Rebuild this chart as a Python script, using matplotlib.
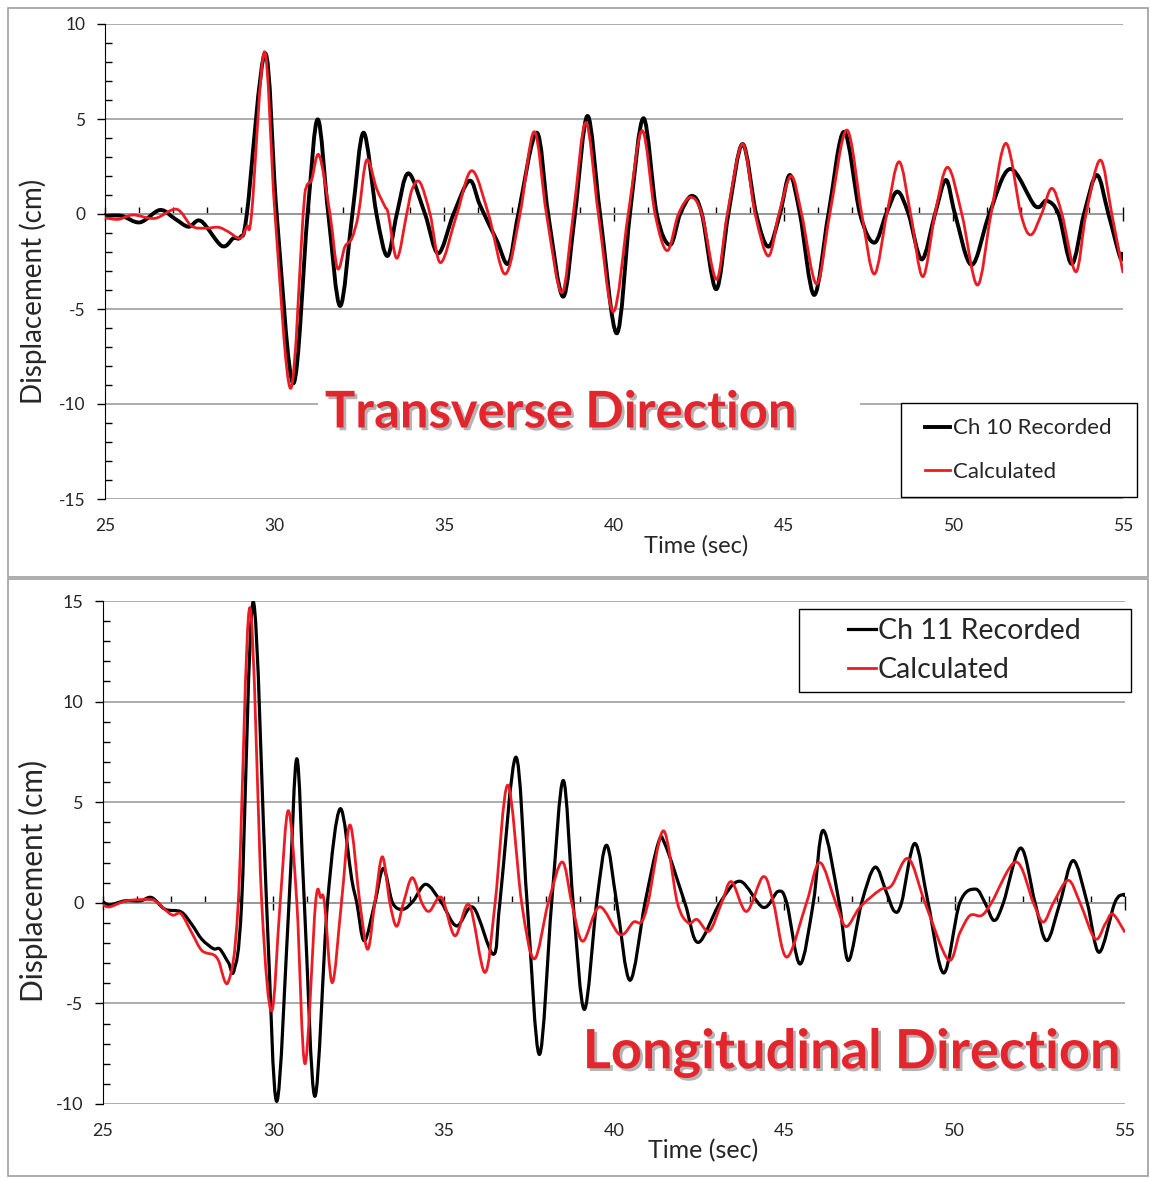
import matplotlib
matplotlib.use("Agg")
import matplotlib.pyplot as plt
import matplotlib.patheffects as pe
from matplotlib.patches import Rectangle, PathPatch
from matplotlib.path import Path
from matplotlib.lines import Line2D
from matplotlib.ticker import MultipleLocator, NullFormatter

plt.rcParams['font.family'] = ['Lato', 'DejaVu Sans']
plt.rcParams['axes.unicode_minus'] = False

# --- transverse direction (Ch 10): (time s, displacement cm)
t_ch10 = [25.0, 25.49, 26.03, 26.62, 27.06, 27.46, 27.83, 28.44, 28.78, 29.0, 29.18,
          29.72, 30.06, 30.55, 30.97, 31.27, 31.58, 31.93, 32.29, 32.62, 33.0, 33.32,
          33.6, 33.94, 34.43, 34.82, 35.27, 35.74, 36.05, 36.54, 36.89, 37.18, 37.72,
          38.06, 38.5, 38.85, 39.22, 39.59, 40.08, 40.47, 40.87, 41.26, 41.65, 41.95,
          42.29, 42.59, 43.01, 43.37, 43.79, 44.19, 44.55, 44.89, 45.18, 45.48, 45.9,
          46.32, 46.78, 47.25, 47.67, 48.02, 48.35, 48.68, 49.07, 49.46, 49.78, 50.05,
          50.54, 51.06, 51.67, 52.41, 52.75, 53.1, 53.49, 53.85, 54.23, 54.57, 54.92, 55.0]
d_ch10 = [-0.1, -0.1, -0.44, 0.21, -0.25, -0.67, -0.37, -1.68, -1.28, -1.2, 0.0,
          8.46, 0.0, -8.91, 0.0, 4.98, 0.0, -4.84, 0.0, 4.28, 0.0, -2.21,
          0.0, 2.14, 0.0, -2.07, 0.0, 1.75, 0.47, -1.37, -2.6, 0.0, 4.28,
          0.0, -4.35, 0.0, 5.16, 0.0, -6.28, 0.0, 5.04, 0.0, -1.63, 0.0,
          0.95, 0.0, -3.96, 0.0, 3.68, 0.0, -1.72, 0.0, 2.05, 0.0, -4.26,
          0.0, 4.33, 0.0, -1.51, 0.0, 1.18, 0.0, -2.39, 0.0, 1.79, 0.0,
          -2.68, 0.0, 2.37, 0.42, 0.7, 0.0, -2.63, 0.0, 2.05, 0.0, -2.3, -2.0]

t_calc_tr = [25.0, 25.4, 25.83, 26.47, 27.11, 27.55, 27.95, 28.34, 28.63, 28.98, 29.18,
             29.32, 29.7, 30.01, 30.47, 30.84, 30.94, 31.09, 31.31, 31.63, 31.85, 32.07,
             32.27, 32.47, 32.71, 33.0, 33.25, 33.35, 33.6, 33.89, 34.05, 34.28, 34.58,
             34.89, 35.37, 35.81, 36.3, 36.79, 37.23, 37.65, 38.01, 38.46, 38.8, 39.17,
             39.54, 39.98, 40.42, 40.83, 41.21, 41.57, 41.9, 42.26, 42.59, 43.02, 43.34,
             43.79, 44.16, 44.55, 44.86, 45.22, 45.53, 45.97, 46.36, 46.86, 47.3, 47.67,
             48.04, 48.4, 48.74, 49.1, 49.46, 49.83, 50.25, 50.71, 51.11, 51.55, 51.99,
             52.28, 52.6, 52.9, 53.2, 53.61, 53.91, 54.33, 54.67, 55.0]
d_calc_tr = [-0.2, -0.28, -0.05, -0.23, 0.25, -0.63, -0.75, -0.7, -0.93, -1.28, -0.65,
             0.0, 8.54, 0.0, -9.18, 0.0, 1.44, 1.8, 3.1, 0.0, -2.86, -1.72,
             -1.3, 0.0, 2.84, 1.35, 0.39, 0.0, -2.33, 0.0, 1.3, 1.67, 0.0,
             -2.56, 0.0, 2.28, 0.0, -3.16, 0.0, 4.33, 0.0, -4.14, 0.0, 4.81,
             0.0, -5.14, 0.0, 4.39, 0.0, -1.93, 0.0, 0.88, 0.0, -3.44, 0.0,
             3.68, 0.0, -2.21, 0.0, 2.0, 0.0, -3.68, 0.0, 4.42, 0.0, -3.16,
             0.0, 2.75, 0.0, -3.3, 0.0, 2.46, 0.0, -3.74, 0.0, 3.72, 0.0,
             -1.1, 0.0, 1.35, 0.0, -3.04, 0.0, 2.84, 0.0, -3.1]

# --- longitudinal direction (Ch 11)
t_ch11 = [25.0, 25.2, 25.65, 26.1, 26.43, 26.82, 27.29, 27.6, 27.9, 28.24, 28.43,
          28.68, 28.85, 29.07, 29.41, 29.8, 30.1, 30.46, 30.69, 30.91, 31.22, 31.59,
          31.96, 32.3, 32.45, 32.67, 32.98, 33.23, 33.5, 33.81, 34.11, 34.48,
          34.94, 35.38, 35.87, 36.46, 36.65, 37.12, 37.45, 37.81, 38.17, 38.51,
          38.8, 39.13, 39.49, 39.78, 40.08, 40.47, 40.91, 41.3, 41.5, 42.08, 42.47,
          43.11, 43.7, 44.38, 44.82, 45.07, 45.46, 45.85, 46.14, 46.61, 46.88, 47.27,
          47.66, 47.99, 48.23, 48.44, 48.83, 49.22, 49.68, 50.15, 50.61, 50.89, 51.16,
          51.43, 51.94, 52.36, 52.7, 53.09, 53.48, 53.89, 54.24, 54.7, 54.95, 55.0]
d_ch11 = [0.05, -0.1, 0.1, 0.1, 0.26, -0.32, -0.45, -1.06, -1.81, -2.28, -2.3,
          -2.97, -3.34, 0.0, 14.96, 0.0, -9.87, 0.0, 7.16, 0.0, -9.62, 0.0,
          4.67, 1.18, 0.0, -1.89, 0.0, 1.71, 0.0, -0.32, 0.1, 0.92,
          0.0, -1.15, -0.23, -2.56, 0.0, 7.24, 0.0, -7.54, 0.0, 6.08,
          0.0, -5.3, 0.0, 2.86, 0.0, -3.85, 0.0, 2.97, 2.9, 0.0, -1.97,
          0.0, 1.07, -0.23, 0.57, 0.0, -3.04, 0.0, 3.6, 0.0, -2.87, 0.0,
          1.77, 0.55, -0.42, 0.0, 2.95, 0.0, -3.49, 0.0, 0.68, 0.0, -0.88,
          0.0, 2.72, 0.0, -1.88, 0.0, 2.1, 0.0, -2.46, 0.0, 0.41, 0.3]

t_calc_lo = [25.0, 25.2, 25.7, 26.38, 26.6, 27.02, 27.29, 27.6, 27.9, 28.24, 28.39,
             28.68, 28.97, 29.31, 29.66, 29.95, 30.2, 30.44, 30.69, 30.93, 31.24, 31.39,
             31.5, 31.73, 32.0, 32.25, 32.54, 32.77, 32.98, 33.2, 33.42, 33.62, 33.82,
             34.08, 34.36, 34.58, 34.94, 35.33, 35.75, 36.21, 36.51, 36.88, 37.29, 37.66,
             38.07, 38.48, 38.76, 39.08, 39.57, 40.17, 40.57, 40.8, 41.0, 41.45, 41.86,
             42.18, 42.44, 42.8, 43.16, 43.45, 43.89, 44.38, 44.68, 45.07, 45.65, 46.04,
             46.51, 46.81, 47.22, 47.81, 48.15, 48.64, 49.13, 49.81, 50.15, 50.45, 50.79,
             51.08, 51.8, 52.31, 52.6, 52.9, 53.33, 53.68, 54.12, 54.42, 54.64, 55.0]
d_calc_lo = [-0.1, -0.2, 0.1, 0.16, 0.0, -0.6, -0.55, -1.47, -2.37, -2.58, -2.87,
             -3.92, 0.0, 14.67, 0.0, -5.38, 0.0, 4.58, 0.0, -8.0, 0.0, 0.26,
             0.0, -3.97, 0.0, 3.87, 0.0, -2.31, 0.0, 2.29, 0.0, -1.17, 0.0,
             1.25, 0.0, -0.42, 0.26, -1.64, -0.1, -3.46, 0.0, 5.85, 0.0, -2.79,
             0.0, 2.03, 0.0, -1.91, -0.2, -1.58, -0.96, -0.96, 0.0, 3.58, 0.0,
             -1.0, -0.83, -1.4, 0.0, 1.05, -0.43, 1.3, 0.0, -2.7, 0.0, 2.0,
             0.0, -1.18, -0.22, 0.64, 0.86, 2.2, 0.0, -2.83, -1.5, -0.63, -0.63,
             0.0, 2.03, 0.0, -0.96, 0.0, 1.12, 0.0, -1.79, -1.05, -0.56, -1.47]

x_ticks = [25, 30, 35, 40, 45, 50, 55]
RED = '#ED1C24'
GRID = '#A6A6A6'
TXT = '#262626'

fig = plt.figure(figsize=(11.5, 11.78), dpi=100)

# chart-area borders, like the two Excel charts
for y0, h in [(1 - 577 / 1178, 569 / 1178), (1 - 1176 / 1178, 597 / 1178)]:
    fig.add_artist(Rectangle((8 / 1150, y0), 1140 / 1150, h, transform=fig.transFigure,
                             fill=False, ec='#A0A0A0', lw=1.2, zorder=0))


def smooth_line(ax, t, d, color, lw, z):
    # Excel-style "smoothed line": cubic Bezier segments through the read points
    n = len(t)
    verts = [(t[0], d[0])]
    codes = [Path.MOVETO]
    for i in range(n - 1):
        a = max(i - 1, 0)
        b = min(i + 2, n - 1)
        c1 = (t[i] + (t[i + 1] - t[a]) / 6, d[i] + (d[i + 1] - d[a]) / 6)
        c2 = (t[i + 1] - (t[b] - t[i]) / 6, d[i + 1] - (d[b] - d[i]) / 6)
        verts += [c1, c2, (t[i + 1], d[i + 1])]
        codes += [Path.CURVE4] * 3
    ax.add_patch(PathPatch(Path(verts, codes), fill=False, ec=color, lw=lw,
                           joinstyle='round', capstyle='butt', zorder=z))
    return Line2D([], [], color=color, lw=lw)


def style_axes(ax, ymin, ymax, fs):
    ax.set_xlim(25, 55)
    ax.set_ylim(ymin, ymax)
    ax.set_yticks(range(ymin, ymax + 1, 5))
    ax.yaxis.set_minor_locator(MultipleLocator(1))
    ax.yaxis.grid(True, which='major', color=GRID, lw=1.3)
    ax.set_axisbelow(True)
    for s in ['top', 'right', 'bottom']:
        ax.spines[s].set_visible(False)
    ax.spines['left'].set_color('black')
    ax.tick_params(axis='y', which='major', direction='out', length=6, width=1,
                   labelsize=fs, labelcolor=TXT, pad=8)
    ax.tick_params(axis='y', which='minor', direction='in', length=5, width=1)
    ax.set_xticks(x_ticks)
    ax.tick_params(axis='x', length=0, labelsize=fs, labelcolor=TXT, pad=14)
    # the black zero axis carrying the tick marks
    frac = -ymin / (ymax - ymin)
    sec = ax.secondary_xaxis(frac)
    sec.set_xticks(x_ticks)
    sec.xaxis.set_major_formatter(NullFormatter())
    sec.xaxis.set_minor_locator(MultipleLocator(1))
    sec.tick_params(which='major', direction='inout', length=10, width=1)
    sec.tick_params(which='minor', direction='out' if frac >= 0.5 else 'in', length=5, width=1)
    for sp in sec.spines.values():
        sp.set_color('black')
        sp.set_linewidth(1.2)
    return sec


# --- top chart
ax1 = fig.add_axes([105 / 1150, 1 - 499 / 1178, 1018 / 1150, 475 / 1178])
style_axes(ax1, -15, 10, 12.5)
h1 = smooth_line(ax1, t_ch10, d_ch10, 'black', 2.8, 3)
h2 = smooth_line(ax1, t_calc_tr, d_calc_tr, RED, 2.0, 4)

fig.text(33 / 1150, 1 - 291 / 1178, 'Displacement (cm)', rotation=90, ha='center',
         va='center', fontsize=20, color=TXT)
fig.text(696 / 1150, 1 - 546 / 1178, 'Time (sec)', ha='center', va='center',
         fontsize=17, color=TXT)

fig.add_artist(Rectangle((318 / 1150, 1 - 440 / 1178), 542 / 1150, 50 / 1178,
                         transform=fig.transFigure, fc='white', ec='none', zorder=2))
fig.text(561 / 1150, 1 - 413 / 1178, 'Transverse Direction', ha='center', va='center',
         fontsize=36.5, fontweight='bold', color='#E3262D', zorder=3,
         path_effects=[pe.withSimplePatchShadow(offset=(2, -2), shadow_rgbFace='#444444',
                                                alpha=0.4)])

fig.add_artist(Rectangle((901 / 1150, 1 - 497 / 1178), 236 / 1150, 94 / 1178,
                         transform=fig.transFigure, fc='white', ec='black', lw=1, zorder=4))
fig.legend([h1, h2], ['Ch 10 Recorded', 'Calculated'], loc='center left',
           bbox_to_anchor=(925 / 1150, 1 - 450 / 1178), frameon=False, borderpad=0,
           borderaxespad=0, fontsize=16, handlelength=1.13, handletextpad=0.12,
           labelspacing=1.05, labelcolor=TXT)

# --- bottom chart
ax2 = fig.add_axes([103 / 1150, 1 - 1104 / 1178, 1022 / 1150, 503 / 1178])
style_axes(ax2, -10, 15, 13)
h3 = smooth_line(ax2, t_ch11, d_ch11, 'black', 2.3, 3)
h4 = smooth_line(ax2, t_calc_lo, d_calc_lo, RED, 2.0, 4)

fig.text(33 / 1150, 1 - 881 / 1178, 'Displacement (cm)', rotation=90, ha='center',
         va='center', fontsize=21.5, color=TXT)
fig.text(703 / 1150, 1 - 1151 / 1178, 'Time (sec)', ha='center', va='center',
         fontsize=18, color=TXT)

fig.text(851 / 1150, 1 - 1053 / 1178, 'Longitudinal Direction', ha='center', va='center',
         fontsize=39, fontweight='bold', color='#E3262D', zorder=3,
         path_effects=[pe.withSimplePatchShadow(offset=(2, -2), shadow_rgbFace='#444444',
                                                alpha=0.4)])

fig.add_artist(Rectangle((799 / 1150, 1 - 692 / 1178), 332 / 1150, 83 / 1178,
                         transform=fig.transFigure, fc='white', ec='black', lw=1, zorder=4))
fig.legend([h3, h4], ['Ch 11 Recorded', 'Calculated'], loc='center left',
           bbox_to_anchor=(848 / 1150, 1 - 650.5 / 1178), frameon=False, borderpad=0,
           borderaxespad=0, fontsize=20.5, handlelength=1.0, handletextpad=0.04,
           labelspacing=0.45, labelcolor=TXT)

fig.savefig('out.png', dpi=100)
